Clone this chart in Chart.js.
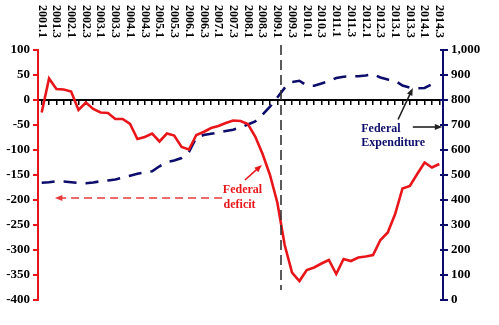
<!DOCTYPE html>
<html lang="en">
<head>
<meta charset="UTF-8">
<title>Federal deficit and Federal expenditure</title>
<script src="https://cdn.jsdelivr.net/npm/chart.js@4.4.1/dist/chart.umd.min.js"></script>
<style>
  html, body { margin: 0; padding: 0; background: #fff; }
  canvas { display: block; }
</style>
</head>
<body>
<canvas id="fed" width="499" height="325"></canvas>
<script>
// quarterly categories, 2001.1 .. 2014.3
const quarters = [
  '2001.1','2001.2','2001.3','2001.4','2002.1','2002.2','2002.3','2002.4',
  '2003.1','2003.2','2003.3','2003.4','2004.1','2004.2','2004.3','2004.4',
  '2005.1','2005.2','2005.3','2005.4','2006.1','2006.2','2006.3','2006.4',
  '2007.1','2007.2','2007.3','2007.4','2008.1','2008.2','2008.3','2008.4',
  '2009.1','2009.2','2009.3','2009.4','2010.1','2010.2','2010.3','2010.4',
  '2011.1','2011.2','2011.3','2011.4','2012.1','2012.2','2012.3','2012.4',
  '2013.1','2013.2','2013.3','2013.4','2014.1','2014.2','2014.3'
];
// labels printed along the top
const topLabels = [
  '2001.1','2001.3','2002.1','2002.3','2003.1','2003.3','2004.1','2004.3',
  '2005.1','2005.3','2006.1','2006.3','2007.1','2007.3','2008.1','2008.3',
  '2009.1','2009.3','2010.1','2010.3','2011.1','2011.3','2012.1','2012.3',
  '2013.1','2013.3','2014.1','2014.3'
];
// Federal deficit (left axis)
const deficit = [
  -25, 43, 22, 21, 17, -20, -5, -18, -25, -26, -38, -38, -48, -78, -74, -67,
  -83, -67, -71, -94, -99, -70, -64, -56, -52, -46, -41, -42, -48, -73, -108, -150,
  -205, -290, -345, -362, -340, -335, -327, -320, -348, -318, -322, -315, -313, -310, -280, -265,
  -228, -177, -172, -148, -125, -135, -128
];
// Federal expenditure (right axis)
const expenditure = [
  469, 471, 475, 474, 471, 468, 467, 470, 475, 478, 482, 489, 497, 505, 510, 515,
  535, 552, 558, 568, 592, 650, 660, 665, 670, 676, 681, 690, 702, 714, 742, 773,
  810, 848, 872, 877, 858, 857, 866, 875, 888, 893, 895, 895, 898, 903, 890, 882,
  877, 858, 850, 847, 848, 863, null
];
const leftTicks = { min: -400, max: 100, step: 50 };
const rightTicks = { min: 0, max: 1000, step: 100 };

const RED = '#e8161b';
const NAVY = '#0c0c6c';

function arrow(ctx, x1, y1, x2, y2, color, dash) {
  const a = Math.atan2(y2 - y1, x2 - x1), h = 8;
  ctx.strokeStyle = color;
  ctx.fillStyle = color;
  ctx.lineWidth = 1.6;
  ctx.setLineDash(dash || []);
  ctx.beginPath();
  ctx.moveTo(x1, y1);
  ctx.lineTo(x2 - h * 0.7 * Math.cos(a), y2 - h * 0.7 * Math.sin(a));
  ctx.stroke();
  ctx.setLineDash([]);
  ctx.beginPath();
  ctx.moveTo(x2, y2);
  ctx.lineTo(x2 - h * Math.cos(a - 0.38), y2 - h * Math.sin(a - 0.38));
  ctx.lineTo(x2 - h * Math.cos(a + 0.38), y2 - h * Math.sin(a + 0.38));
  ctx.closePath();
  ctx.fill();
}

const extras = {
  id: 'extras',
  afterDatasetsDraw(chart) {
    const { ctx, scales: { x, y, y2 } } = chart;
    ctx.save();

    // rotated quarter labels on top
    ctx.font = 'bold 12px "Liberation Serif"';
    ctx.fillStyle = '#000';
    ctx.textAlign = 'left';
    ctx.textBaseline = 'middle';
    topLabels.forEach(lbl => {
      const px = x.getPixelForValue(quarters.indexOf(lbl));
      ctx.save();
      ctx.translate(px, 5);
      ctx.rotate(Math.PI / 2);
      ctx.fillText(lbl, 0, 0);
      ctx.restore();
    });

    // inner half of the right axis tick marks
    ctx.strokeStyle = NAVY;
    ctx.lineWidth = 2;
    y2.ticks.forEach(t => {
      const py = Math.round(y2.getPixelForValue(t.value));
      ctx.beginPath();
      ctx.moveTo(y2.left - 3, py);
      ctx.lineTo(y2.left, py);
      ctx.stroke();
    });

    // break marker at 2009
    const mx = x.getPixelForValue(32.5);
    ctx.strokeStyle = '#333';
    ctx.lineWidth = 1.6;
    ctx.setLineDash([10, 5]);
    ctx.beginPath();
    ctx.moveTo(mx, y.getPixelForValue(110));
    ctx.lineTo(mx, y.getPixelForValue(-380));
    ctx.stroke();
    ctx.setLineDash([]);

    // Federal deficit note
    arrow(ctx, x.getPixelForValue(24.5), y.getPixelForValue(-196),
               x.getPixelForValue(1.8), y.getPixelForValue(-196), '#e83a3a', [8, 5]);
    arrow(ctx, x.getPixelForValue(27.6), y.getPixelForValue(-160),
               x.getPixelForValue(29.9), y.getPixelForValue(-130), RED);
    ctx.font = 'bold 12px "Liberation Serif"';
    ctx.fillStyle = RED;
    ctx.textBaseline = 'alphabetic';
    ctx.fillText('Federal', x.getPixelForValue(24.6), y.getPixelForValue(-186));
    ctx.fillText('deficit', x.getPixelForValue(24.7), y.getPixelForValue(-216));

    // Federal expenditure note
    ctx.fillStyle = NAVY;
    ctx.fillText('Federal', x.getPixelForValue(43.4), y2.getPixelForValue(674));
    ctx.fillText('Expenditure', x.getPixelForValue(43.4), y2.getPixelForValue(618));
    arrow(ctx, x.getPixelForValue(50.4), y2.getPixelForValue(692),
               x.getPixelForValue(54.4), y2.getPixelForValue(692), '#222');
    arrow(ctx, x.getPixelForValue(48.4), y2.getPixelForValue(722),
               x.getPixelForValue(50.4), y2.getPixelForValue(848), '#222');

    ctx.restore();
  }
};

Chart.defaults.font.family = '"Liberation Serif", serif';
Chart.defaults.font.weight = 'bold';
Chart.defaults.font.size = 13;
Chart.defaults.color = '#000';

new Chart(document.getElementById('fed'), {
  type: 'line',
  data: {
    labels: quarters,
    datasets: [
      {
        label: 'Federal deficit',
        data: deficit,
        yAxisID: 'y',
        borderColor: RED,
        borderWidth: 2.6,
        pointRadius: 0,
        tension: 0
      },
      {
        label: 'Federal Expenditure',
        data: expenditure,
        yAxisID: 'y2',
        borderColor: NAVY,
        borderWidth: 2.6,
        borderDash: [13, 9],
        pointRadius: 0,
        tension: 0
      }
    ]
  },
  options: {
    responsive: false,
    devicePixelRatio: 1,
    animation: false,
    layout: { padding: { top: 50, bottom: 25, left: 0, right: 0 } },
    plugins: { legend: { display: false }, tooltip: { enabled: false } },
    scales: {
      x: {
        type: 'category',
        offset: true,
        position: { y: 0 },
        ticks: { display: false },
        grid: { drawOnChartArea: false, drawTicks: true, tickLength: 4, color: '#000', lineWidth: 1.5, offset: false },
        border: { color: '#000', width: 2 }
      },
      y: {
        position: 'left',
        min: leftTicks.min,
        max: leftTicks.max,
        ticks: { stepSize: leftTicks.step, padding: 3 },
        grid: { drawOnChartArea: false, color: RED, tickLength: 5, lineWidth: 2 },
        border: { color: RED, width: 2 },
        afterFit(s) { s.width = 38; }
      },
      y2: {
        position: 'right',
        min: rightTicks.min,
        max: rightTicks.max,
        ticks: { stepSize: rightTicks.step, padding: 3 },
        grid: { drawOnChartArea: false, color: NAVY, tickLength: 5, lineWidth: 2 },
        border: { color: NAVY, width: 2 },
        afterFit(s) { s.width = 56; }
      }
    }
  },
  plugins: [extras]
});
</script>
</body>
</html>
